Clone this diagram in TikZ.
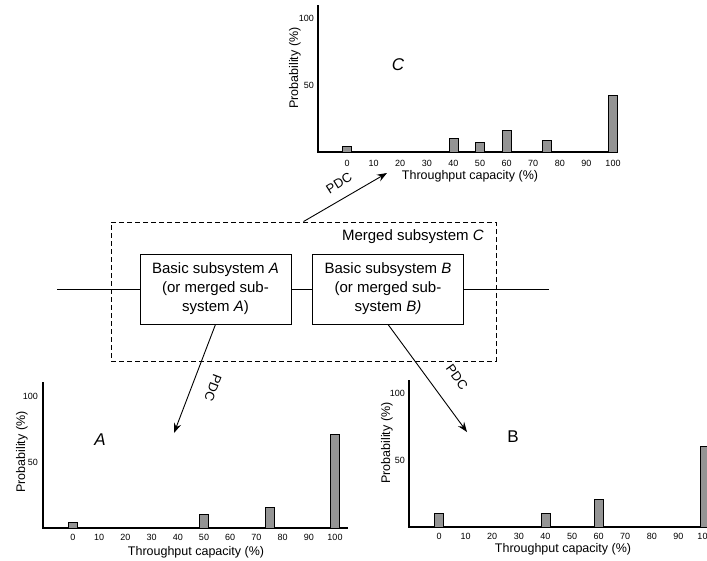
\documentclass[tikz,border=0pt]{standalone}
\usepackage{fontspec}
\setmainfont{Liberation Sans}
\usetikzlibrary{arrows.meta}
\begin{document}
\begin{tikzpicture}[x=1pt,y=-1pt,
  axis/.style={line width=1.2pt},
  bar/.style={draw=black, fill=black!42, line width=0.7pt},
  ticklbl/.style={font=\fontsize{9}{10}\selectfont, inner sep=0pt},
  axtitle/.style={font=\fontsize{12.5}{14}\selectfont, inner sep=0pt},
  subbox/.style={draw, line width=0.8pt, minimum width=151pt, minimum height=70pt,
    align=center, font=\fontsize{15}{19}\selectfont, inner sep=0pt},
  mergedbox/.style={draw, dash pattern=on 5pt off 3pt, line width=0.9pt,
    minimum width=385pt, minimum height=139pt, inner sep=0pt},
  wire/.style={line width=0.8pt},
  flow/.style={line width=0.9pt, -{Stealth[length=10pt,width=7.5pt,inset=3.5pt]}},
  pdc/.style={font=\fontsize{13}{15}\selectfont, inner sep=0pt},
  chartname/.style={font=\fontsize{17}{19}\selectfont, inner sep=0pt},
]
\useasboundingbox (0,0) rectangle (707,560);
\clip (0,0) rectangle (707,560);

% ---------- subsystems ----------
\node[mergedbox] (M) at (303.5,291.5) {};
\node[anchor=east, font=\fontsize{15}{18}\selectfont, inner sep=0pt] (Mlbl) at (484,237) {Merged subsystem \textit{C}};
\node[subbox] (A) at (215.5,289) {Basic subsystem \textit{A}\\(or merged sub-\\system \textit{A})};
\node[subbox] (B) at (388,289) {Basic subsystem \textit{B}\\(or merged sub-\\system \textit{B)}};
\coordinate (inL) at (57,289);
\coordinate (outR) at (549,289);
\draw[wire] (inL) -- (A.west);
\draw[wire] (A.east) -- (B.west);
\draw[wire] (B.east) -- (outR);

% ---------- PDC connectors ----------
\coordinate (tipC) at (387,173);
\coordinate (tipA) at (174,433);
\coordinate (tipB) at (467,432);
\draw[flow] (M.north) -- (tipC);
\draw[flow] (A.south) -- (tipA);
\draw[flow] (B.south) -- (tipB);
\node[pdc, rotate=32] (pdcC) at (339,183) {PDC};
\node[pdc, rotate=-110.6] (pdcA) at (213,388) {PDC};
\node[pdc, rotate=-54] (pdcB) at (457,377) {PDC};

% ---------- chart C (top) ----------
\draw[axis] (318,5) -- (318,152) -- (616,152);
\node[ticklbl, anchor=east] (c100) at (314,18) {100};
\node[ticklbl, anchor=east] (c50) at (314,85) {50};
\foreach \v in {0,10,...,100}
  \node[ticklbl] at ({347+2.66*\v},163) {\v};
\foreach \v/\p in {0/4, 40/10, 50/7.5, 60/16, 75/9, 100/42}
  \draw[bar] ({347+2.66*\v-4.5},152) rectangle ++(9,{-1.34*\p});
\node[axtitle] (cx) at (470,176) {Throughput capacity (\%)};
\node[axtitle, rotate=90] (cy) at (295,68) {Probability (\%)};
\node[chartname] (cname) at (398,65) {\textit{C}};

% ---------- chart A (bottom left) ----------
\draw[axis] (43,382) -- (43,528) -- (348,528);
\node[ticklbl, anchor=east] (a100) at (38,396) {100};
\node[ticklbl, anchor=east] (a50) at (38,462) {50};
\foreach \v in {0,10,...,100}
  \node[ticklbl] at ({73+2.62*\v},537) {\v};
\foreach \v/\p in {0/4.5, 50/10.6, 75/16, 100/71}
  \draw[bar] ({73+2.62*\v-4.5},528) rectangle ++(9,{-1.32*\p});
\node[axtitle] (ax) at (196,552) {Throughput capacity (\%)};
\node[axtitle, rotate=90] (ay) at (22,452) {Probability (\%)};
\node[chartname] (aname) at (100,440) {\textit{A}};

% ---------- chart B (bottom right) ----------
\draw[axis] (409,380) -- (409,527) -- (720,527);
\node[ticklbl, anchor=east] (b100) at (405,393) {100};
\node[ticklbl, anchor=east] (b50) at (405,460) {50};
\foreach \v in {0,10,...,100}
  \node[ticklbl] at ({439+2.66*\v},536) {\v};
\foreach \v/\p in {0/10, 40/10, 60/21, 100/60}
  \draw[bar] ({439+2.66*\v-4.5},527) rectangle ++(9,{-1.34*\p});
\node[axtitle] (bx) at (563,549) {Throughput capacity (\%)};
\node[axtitle, rotate=90] (by) at (387,443) {Probability (\%)};
\node[chartname] (bname) at (513,437) {B};
\end{tikzpicture}
\end{document}
